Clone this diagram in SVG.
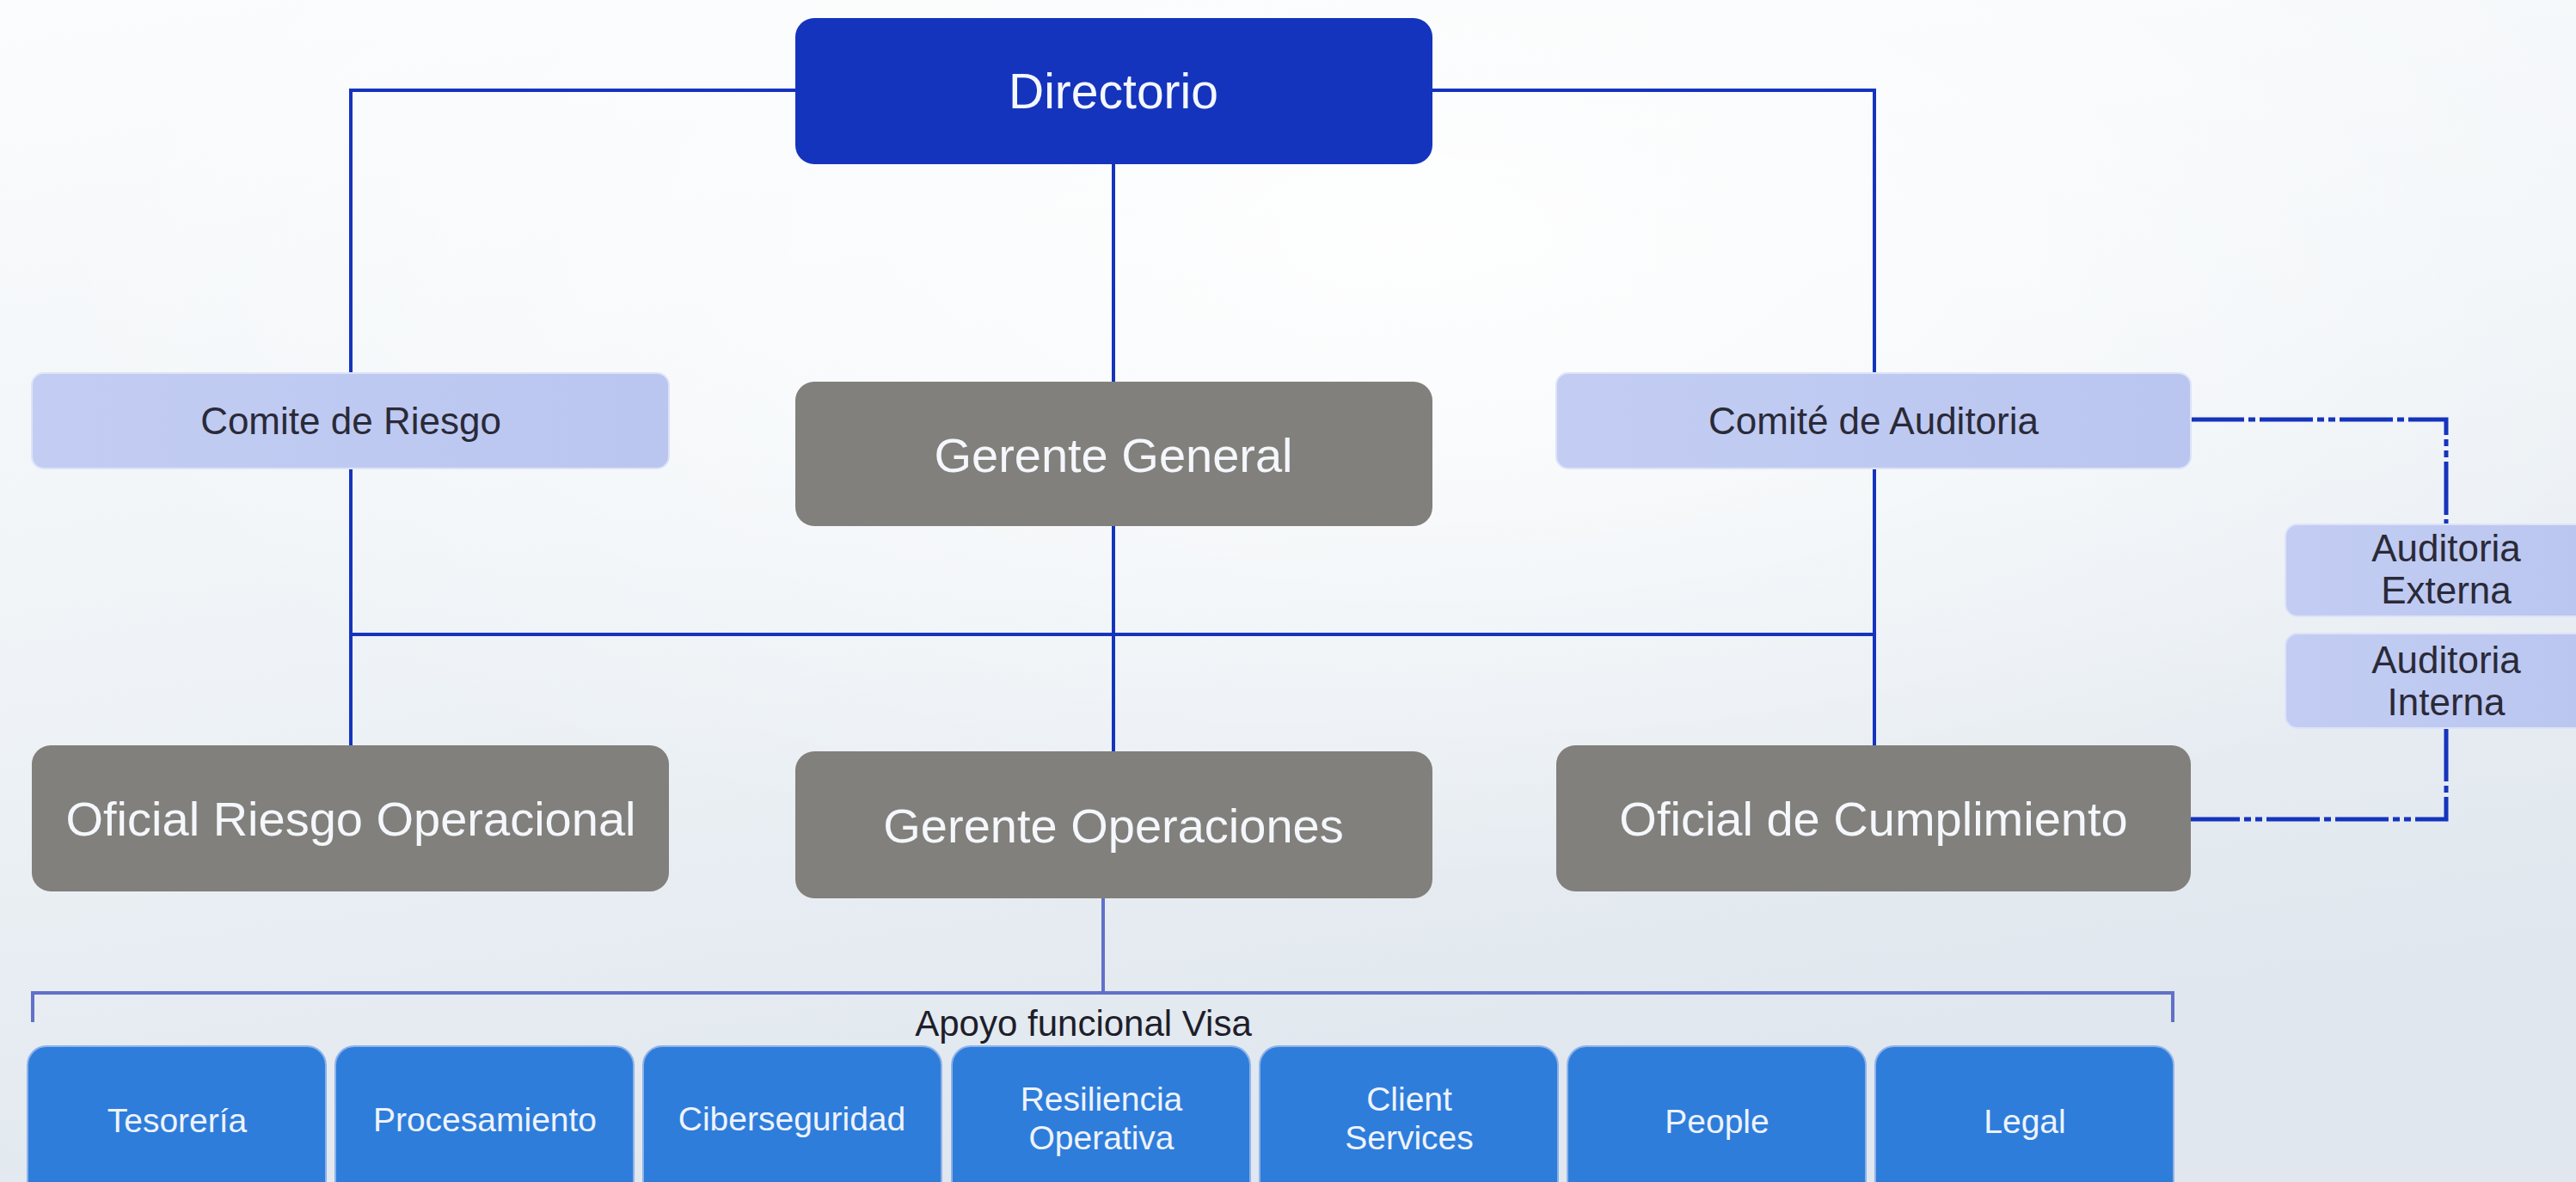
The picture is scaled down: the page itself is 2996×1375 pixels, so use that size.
<svg xmlns="http://www.w3.org/2000/svg" width="2996" height="1375" viewBox="0 0 2996 1375">
  <defs>
    <linearGradient id="bg" x1="0" y1="0" x2="0.3" y2="1">
      <stop offset="0" stop-color="#fbfcfd"/>
      <stop offset="0.45" stop-color="#f1f5f8"/>
      <stop offset="1" stop-color="#e0e7ee"/>
    </linearGradient>
    <radialGradient id="glow" cx="0.55" cy="0.2" r="0.55">
      <stop offset="0" stop-color="#ffffff" stop-opacity="0.9"/>
      <stop offset="1" stop-color="#ffffff" stop-opacity="0"/>
    </radialGradient>
    <linearGradient id="lilac" x1="0" y1="0" x2="1" y2="0">
      <stop offset="0" stop-color="#c3cdf3"/>
      <stop offset="1" stop-color="#bac6f0"/>
    </linearGradient>
    <style>
      .main{fill:#1534bd;}
      .gray{fill:#82807c;}
      .lilac{fill:url(#lilac);stroke:#dde3f8;stroke-width:2;}
      .unit{fill:#2e7ddb;stroke:#8fb2e8;stroke-width:2;}
      .t{font-family:"Liberation Sans",Arial,sans-serif;text-anchor:middle;}
      .tw{fill:#f4f7fb;font-size:56px;}
      .tw57{fill:#f4f7fb;font-size:57px;}
      .td{fill:#2a2a38;font-size:44px;}
      .tu{fill:#eef3fb;font-size:39px;}
      .ln{fill:none;stroke:#1534bd;stroke-width:4;}
      .dd{fill:none;stroke:#1534bd;stroke-width:5;stroke-dasharray:62 5 8 5 62 5 8 5 8 5;}
      .br{fill:none;stroke:#6170c8;stroke-width:4;}
    </style>
  </defs>

  <rect x="0" y="0" width="2996" height="1375" fill="url(#bg)"/>
  <rect x="0" y="0" width="2996" height="1375" fill="url(#glow)"/>

  <g id="connectors">
    <path class="ln" d="M925,105 H408 V434"/>
    <path class="ln" d="M408,545 V867"/>
    <path class="ln" d="M1666,105 H2180 V434"/>
    <path class="ln" d="M2180,545 V867"/>
    <path class="ln" d="M1295,191 V444"/>
    <path class="ln" d="M1295,612 V874"/>
    <path class="ln" d="M408,738 H2180"/>
    <path class="dd" d="M2548,488 H2845 V610"/>
    <path class="dd" d="M2845,847 V953 H2548"/>
    <path class="br" d="M1283,1045 V1155"/>
    <path class="br" d="M38,1189 V1155 H2527 V1189"/>
  </g>

  <g id="directorio">
    <rect class="main" x="925" y="21" width="741" height="170" rx="22"/>
    <text class="t tw57" x="1295" y="126">Directorio</text>
  </g>

  <g id="comite-riesgo">
    <rect class="lilac" x="37" y="434" width="741" height="111" rx="14"/>
    <text class="t td" x="408" y="505">Comite de Riesgo</text>
  </g>

  <g id="gerente-general">
    <rect class="gray" x="925" y="444" width="741" height="168" rx="22" fill="#878480"/>
    <text class="t tw" x="1295" y="549">Gerente General</text>
  </g>

  <g id="comite-auditoria">
    <rect class="lilac" x="1810" y="434" width="738" height="111" rx="14"/>
    <text class="t td" x="2179" y="505">Comité de Auditoria</text>
  </g>

  <g id="auditoria-externa">
    <rect class="lilac" x="2658" y="610" width="360" height="107" rx="14"/>
    <text class="t td" x="2845" y="653">Auditoria</text>
    <text class="t td" x="2845" y="702">Externa</text>
  </g>

  <g id="auditoria-interna">
    <rect class="lilac" x="2658" y="737" width="360" height="110" rx="14"/>
    <text class="t td" x="2845" y="783">Auditoria</text>
    <text class="t td" x="2845" y="832">Interna</text>
  </g>

  <g id="oficial-riesgo">
    <rect class="gray" x="37" y="867" width="741" height="170" rx="22"/>
    <text class="t tw" x="408" y="972">Oficial Riesgo Operacional</text>
  </g>

  <g id="gerente-operaciones">
    <rect class="gray" x="925" y="874" width="741" height="171" rx="22"/>
    <text class="t tw" x="1295" y="980">Gerente Operaciones</text>
  </g>

  <g id="oficial-cumplimiento">
    <rect class="gray" x="1810" y="867" width="738" height="170" rx="22"/>
    <text class="t tw" x="2179" y="972">Oficial de Cumplimiento</text>
  </g>

  <g id="apoyo-label">
    <text class="t" x="1260" y="1205" font-size="42" fill="#1e1e2a">Apoyo funcional Visa</text>
  </g>

  <g id="tesoreria">
    <rect class="unit" x="32" y="1217" width="347" height="190" rx="22"/>
    <text class="t tu" x="206" y="1317">Tesorería</text>
  </g>
  <g id="procesamiento">
    <rect class="unit" x="390" y="1217" width="347" height="190" rx="22"/>
    <text class="t tu" x="564" y="1316">Procesamiento</text>
  </g>
  <g id="ciberseguridad">
    <rect class="unit" x="748" y="1217" width="347" height="190" rx="22"/>
    <text class="t tu" x="921" y="1315">Ciberseguridad</text>
  </g>
  <g id="resiliencia">
    <rect class="unit" x="1107" y="1217" width="347" height="190" rx="22"/>
    <text class="t tu" x="1281" y="1292">Resiliencia</text>
    <text class="t tu" x="1281" y="1337">Operativa</text>
  </g>
  <g id="client-services">
    <rect class="unit" x="1465" y="1217" width="347" height="190" rx="22"/>
    <text class="t tu" x="1639" y="1292">Client</text>
    <text class="t tu" x="1639" y="1337">Services</text>
  </g>
  <g id="people">
    <rect class="unit" x="1823" y="1217" width="347" height="190" rx="22"/>
    <text class="t tu" x="1997" y="1318">People</text>
  </g>
  <g id="legal">
    <rect class="unit" x="2181" y="1217" width="347" height="190" rx="22"/>
    <text class="t tu" x="2355" y="1318">Legal</text>
  </g>
</svg>
